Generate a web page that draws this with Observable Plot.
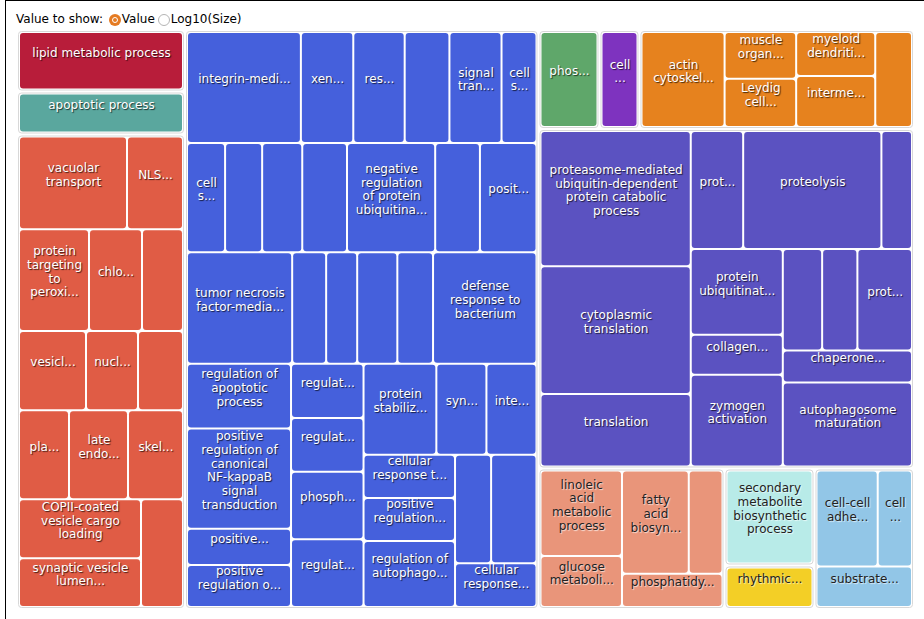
<!DOCTYPE html>
<html><head><meta charset="utf-8">
<script src="https://cdn.jsdelivr.net/npm/d3@7"></script>
<script src="https://cdn.jsdelivr.net/npm/@observablehq/plot@0.6"></script>
<style>
html,body{margin:0;padding:0;background:#fff;overflow:hidden;width:924px;height:619px;}
#frame{position:absolute;left:5px;top:0;width:930px;height:630px;border-left:1px solid #000;border-top:1px solid #000;box-sizing:border-box;}
#hdr{position:absolute;left:16px;top:12px;font:12px Verdana,"DejaVu Sans",sans-serif;color:#000;display:flex;align-items:center;white-space:nowrap;}
.radio{display:inline-block;position:relative;width:12px;height:12px;border-radius:50%;box-sizing:border-box;margin:1px 1px 0 2px;}
.radio.on{background:#e57b22;}
.radio.on::after{content:"";position:absolute;left:3px;top:3px;width:6px;height:6px;border-radius:50%;box-sizing:border-box;border:1.5px solid #fff;background:#e57b22;}
.radio.off{border:1px solid #b5b5b5;background:#fff;margin-left:3px;}
#chart{position:absolute;left:0;top:28px;}
g[fill="white"] text{text-shadow:1px 1px 1px rgba(0,0,0,0.7);}
g[fill="#222"] text{text-shadow:1px 1px 1px rgba(255,255,255,0.7);}
</style></head>
<body>
<div id="frame"></div>
<div id="hdr">Value to show:&nbsp;<span class="radio on"></span>Value<span class="radio off"></span>Log10(Size)</div>
<div id="chart"></div>
<script>
// top-level clusters (in drawing order)
const groupColors = ["#b81d3a","#5aa79e","#e05c45","#4560dc","#5fa76a","#7e33bf","#e6821e","#5b52c1","#e9957a","#b8ebe8","#f3cf26","#92c6e7"];
const groupSizes  = [10332, 7224, 79716, 204677, 6039, 3960, 27176, 127482, 26133, 8730, 3915, 13980];
const groupDarkText = [false,false,false,false,false,false,false,false,true,true,true,true];

// terms: cluster index, displayed label, value
const leafGroup = [
  0,
  1,
  2,2,2,2,2,2,2,2,2,2,2,2,2,2,
  3,3,3,3,3,3, 3,3,3,3,3,3,3, 3,3,3,3,3,3, 3,3,3,3, 3,3,3,3, 3,3,3, 3,3,3, 3,3, 3,
  4,
  5,
  6,6,6,6,6,6,
  7,7,7,7,7,7,7,7,7,7,7,7,7,7,
  8,8,8,8,8,
  9,
  10,
  11,11,11
];
const leafLabels = [
  "lipid metabolic process",
  "apoptotic process",
  "vacuolar\ntransport","NLS...","protein\ntargeting\nto\nperoxi...","chlo...","","vesicl...","nucl...","","pla...","late\nendo...","skel...","COPII-coated\nvesicle cargo\nloading","synaptic vesicle\nlumen...","",
  "integrin-medi...","xen...","res...","","signal\ntran...","cell\ns...",
  "cell\ns...","","","","negative\nregulation\nof protein\nubiquitina...","","posit...",
  "tumor necrosis\nfactor-media...","","","","","defense\nresponse to\nbacterium",
  "regulation of\napoptotic\nprocess","positive\nregulation of\ncanonical\nNF-kappaB\nsignal\ntransduction","positive...","positive\nregulation o...",
  "regulat...","regulat...","phosph...","regulat...",
  "protein\nstabiliz...","syn...","inte...",
  "cellular\nresponse t...","positive\nregulation...","regulation of\nautophago...",
  "","",
  "cellular\nresponse...",
  "phos...",
  "cell\n...",
  "actin\ncytoskel...","muscle\norgan...","Leydig\ncell...","myeloid\ndendriti...","interme...","",
  "proteasome-mediated\nubiquitin-dependent\nprotein catabolic\nprocess","cytoplasmic\ntranslation","translation","prot...","proteolysis","","protein\nubiquitinat...","collagen...","zymogen\nactivation","","","prot...","chaperone...","autophagosome\nmaturation",
  "linoleic\nacid\nmetabolic\nprocess","glucose\nmetaboli...","fatty\nacid\nbiosyn...","","phosphatidy...",
  "secondary\nmetabolite\nbiosynthetic\nprocess",
  "rhythmic...",
  "cell-cell\nadhe...","cell\n...","substrate..."
];
const leafValues = [
  1,
  1,
  10044,5208,7140,5406,4182,5333,4139,3582,4465,5269,4912,7198,5978,4536,
  12543,5772,5661,4928,5739,3852,
  4121,4011,4339,4842,9542,4842,6121,
  11648,3763,3438,4446,3954,11458,
  6687,10327,3744,4337,
  3897,3875,4849,4871,
  6565,4515,4515,
  3926,3899,5998,
  3888,4892,
  3528,
  1,
  1,
  8000,3399,3492,3531,4084,3538,
  20405,19290,10941,6207,16367,3623,7938,3692,8492,4019,3601,5579,4150,10895,
  7003,4182,6932,3502,3363,
  1,
  1,
  5827,3264,3849
];

const TW = 897, TH = 579;
const sumW = groupSizes.map(() => 0);
leafValues.forEach((v, i) => sumW[leafGroup[i]] += v);
const tree = {children: groupSizes.map((s, g) => ({
  group: g,
  children: leafLabels.map((l, i) => i).filter(i => leafGroup[i] === g)
    .map(i => ({i, value: s * leafValues[i] / sumW[g]}))
}))};
const root = d3.hierarchy(tree).sum(d => d.value || 0);
d3.treemap().tile(d3.treemapSquarify).size([TW, TH])
  .paddingOuter(n => n.depth === 1 ? 2 : 0).round(false)(root);
const groups = root.children;
const leaves = root.leaves();
const labelled = leaves.filter(d => leafLabels[d.data.i] !== "");
const cx = d => (d.x0 + d.x1) / 2, cy = d => (d.y0 + d.y1) / 2;
const font = "Verdana, 'DejaVu Sans', sans-serif";

const chart = Plot.plot({
  width: 924, height: 591, margin: 0,
  x: {domain: [0, TW], range: [17, 914], axis: null},
  y: {domain: [0, TH], range: [2, 581], axis: null},
  color: {type: "identity"},
  marks: [
    Plot.rect(groups, {x1: "x0", x2: "x1", y1: "y0", y2: "y1", fill: "white", stroke: "#d8d8d8", strokeWidth: 1, inset: 1.5, rx: 3}),
    Plot.rect(leaves, {x1: "x0", x2: "x1", y1: "y0", y2: "y1", fill: d => groupColors[d.parent.data.group], inset: 1, rx: 3}),
    Plot.text(labelled.filter(d => !groupDarkText[d.parent.data.group]), {
      x: cx, y: cy, text: d => leafLabels[d.data.i], fill: "white",
      fontSize: 12, lineHeight: 1.14, dy: -9, fontFamily: font
    }),
    Plot.text(labelled.filter(d => groupDarkText[d.parent.data.group]), {
      x: cx, y: cy, text: d => leafLabels[d.data.i], fill: "#222",
      fontSize: 12, lineHeight: 1.14, dy: -9, fontFamily: font
    })
  ]
});
document.getElementById("chart").append(chart);
</script>
</body></html>
